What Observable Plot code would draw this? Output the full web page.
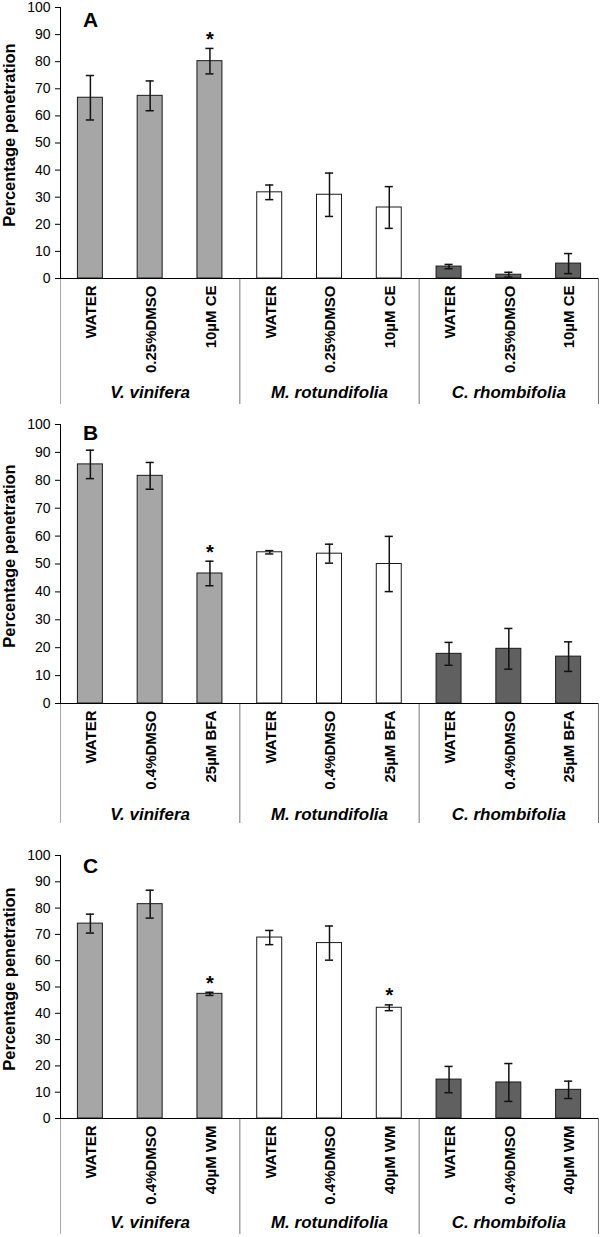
<!DOCTYPE html>
<html><head><meta charset="utf-8">
<script src="https://cdn.jsdelivr.net/npm/d3@7"></script>
<script src="https://cdn.jsdelivr.net/npm/@observablehq/plot@0.6"></script>
<style>
body{margin:0;background:#fff;}
#chart svg{display:block;}
</style></head><body><div id="chart"></div>
<script>
// ---- data ----
const species = ["V. vinifera", "M. rotundifolia", "C. rhombifolia"];
const speciesFill = ["#a6a6a6", "#ffffff", "#606060"];
const yTicks = [0, 10, 20, 30, 40, 50, 60, 70, 80, 90, 100];
const yTitle = "Percentage penetration";

const treatmentsA = ["WATER", "0.25%DMSO", "10µM CE"];
const meansA = [66.7, 67.4, 80.2, 31.8, 30.9, 26.2, 4.4, 1.4, 5.5];
const errsA  = [8.2, 5.5, 4.7, 2.7, 8.0, 7.7, 0.8, 0.9, 3.7];
const starsA = [2];

const treatmentsB = ["WATER", "0.4%DMSO", "25µM BFA"];
const meansB = [85.7, 81.6, 46.6, 54.2, 53.7, 50.0, 17.8, 19.6, 16.8];
const errsB  = [5.1, 4.8, 4.4, 0.6, 3.4, 9.9, 4.1, 7.3, 5.3];
const starsB = [2];

const treatmentsC = ["WATER", "0.4%DMSO", "40µM WM"];
const meansC = [74.1, 81.5, 47.4, 68.8, 66.7, 42.1, 14.8, 13.7, 10.9];
const errsC  = [3.6, 5.3, 0.6, 2.7, 6.5, 1.1, 5.0, 7.2, 3.3];
const starsC = [2, 5];

const FONT = "'Liberation Sans', Arial, Helvetica, sans-serif";

function panel(letter, treatments, means, errs, stars, L) {
  const rows = means.map((m, i) => ({
    i, sp: Math.floor(i / 3), label: treatments[i % 3], mean: m, err: errs[i], star: stars.includes(i)
  }));
  const plotH = L.height - L.marginTop - L.marginBottom;
  const cap = 0.068;
  return Plot.plot({
    width: 602,
    height: L.height,
    marginLeft: 60,
    marginRight: 4,
    marginTop: L.marginTop,
    marginBottom: L.marginBottom,
    x: {domain: [0, 9], axis: null},
    y: {domain: [0, 100], axis: null},
    color: {type: "identity"},
    style: {fontFamily: FONT, background: "#fff", color: "#000"},
    marks: [
      // category dividers below the axis
      Plot.ruleX([0, 3, 6, 9], {stroke: (d) => d === 0 ? "#aaa" : "#777", strokeWidth: 1, insetTop: plotH, insetBottom: -L.divLen}),
      // bars
      Plot.rectY(rows, {
        x1: (d) => d.i, x2: (d) => d.i + 1, y1: 0, y2: "mean",
        fill: (d) => speciesFill[d.sp], stroke: "#1a1a1a", strokeWidth: 1,
        insetLeft: 17.4, insetRight: 17.4
      }),
      // error bars
      Plot.ruleX(rows, {x: (d) => d.i + 0.5, y1: (d) => d.mean - d.err, y2: (d) => d.mean + d.err, stroke: "#111", strokeWidth: 1.5}),
      Plot.ruleY(rows, {y: (d) => d.mean + d.err, x1: (d) => d.i + 0.5 - cap, x2: (d) => d.i + 0.5 + cap, stroke: "#111", strokeWidth: 1.5}),
      Plot.ruleY(rows, {y: (d) => d.mean - d.err, x1: (d) => d.i + 0.5 - cap, x2: (d) => d.i + 0.5 + cap, stroke: "#111", strokeWidth: 1.5}),
      // significance stars
      Plot.text(rows.filter((d) => d.star), {x: (d) => d.i + 0.5, y: (d) => d.mean + d.err, text: () => "*", dy: -9, fontSize: 20, fontWeight: "bold", fill: "#000"}),
      // axes lines
      Plot.ruleY([0], {stroke: "#000", strokeWidth: 1}),
      Plot.ruleX([0], {y1: 0, y2: 100, stroke: "#000", strokeWidth: 1}),
      Plot.axisY({ticks: yTicks, tickSize: 5, tickPadding: 5, fontSize: 14, label: null, stroke: "#000"}),
      // category labels
      Plot.text(rows, {x: (d) => d.i + 0.5, y: 0, text: "label", rotate: -90, textAnchor: "end", dy: 7, dx: 1, fontSize: 15, fontWeight: "bold", fill: "#000"}),
      // species labels
      Plot.text(species, {x: (d, i) => 1.5 + 3 * i, y: 0, text: (d) => d, dy: L.groupDy, fontSize: 17, fontWeight: "bold", fontStyle: "italic", fill: "#000"}),
      // y title
      Plot.text([yTitle], {frameAnchor: "left", textAnchor: "middle", lineAnchor: "middle", text: (d) => d, rotate: -90, dx: -51, dy: -8, fontSize: 16.5, fontWeight: "bold", fill: "#000"}),
      // panel letter
      Plot.text([letter], {frameAnchor: "top-left", textAnchor: "middle", text: (d) => d, dx: 30, dy: L.letterDy, lineAnchor: "top", fontSize: 21, fontWeight: "bold", fill: "#000"})
    ]
  });
}

const root = document.getElementById("chart");
root.append(panel("A", treatmentsA, meansA, errsA, starsA, {height: 412, marginTop: 7, marginBottom: 134, divLen: 126, groupDy: 114, letterDy: 5}));
root.append(panel("B", treatmentsB, meansB, errsB, starsB, {height: 411, marginTop: 12, marginBottom: 120, divLen: 123, groupDy: 111, letterDy: 1}));
root.append(panel("C", treatmentsC, meansC, errsC, starsC, {height: 414, marginTop: 32, marginBottom: 119, divLen: 116, groupDy: 104, letterDy: 3}));
</script>
</body></html>
